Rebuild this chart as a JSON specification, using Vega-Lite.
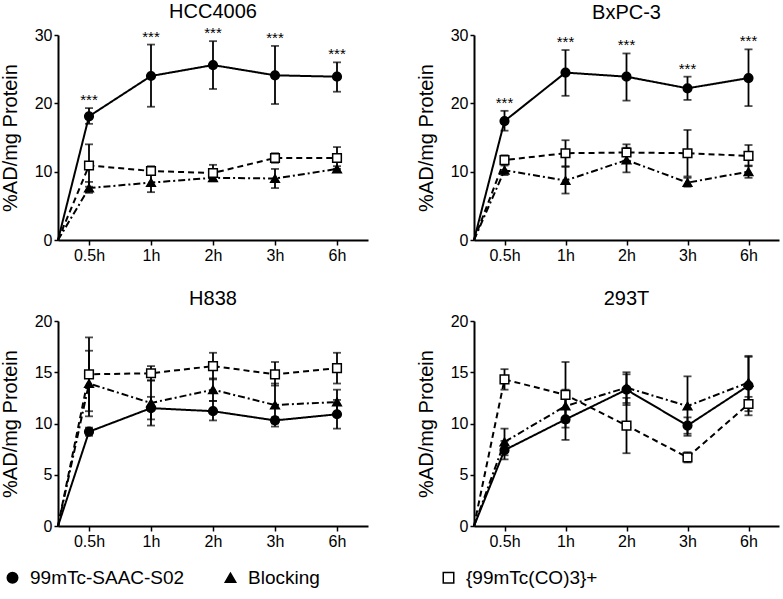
{
  "$schema": "https://vega.github.io/schema/vega-lite/v6.json",
  "padding": {"left": 0, "top": 2, "right": 4, "bottom": 2},
  "background": "white",
  "data": {"values": [
    {"panel":"HCC4006","series":"99mTc-SAAC-S02","time":0,"mean":0},
    {"panel":"HCC4006","series":"99mTc-SAAC-S02","time":0.5,"mean":18.1,"lo":17.0,"hi":19.3,"sig":"***"},
    {"panel":"HCC4006","series":"99mTc-SAAC-S02","time":1,"mean":24.0,"lo":19.5,"hi":28.6,"sig":"***"},
    {"panel":"HCC4006","series":"99mTc-SAAC-S02","time":2,"mean":25.6,"lo":22.1,"hi":29.1,"sig":"***"},
    {"panel":"HCC4006","series":"99mTc-SAAC-S02","time":3,"mean":24.1,"lo":19.9,"hi":28.4,"sig":"***"},
    {"panel":"HCC4006","series":"99mTc-SAAC-S02","time":6,"mean":23.9,"lo":21.7,"hi":26.0,"sig":"***"},
    {"panel":"HCC4006","series":"Blocking","time":0,"mean":0},
    {"panel":"HCC4006","series":"Blocking","time":0.5,"mean":7.6,"lo":6.9,"hi":8.5},
    {"panel":"HCC4006","series":"Blocking","time":1,"mean":8.4,"lo":7.0,"hi":9.8},
    {"panel":"HCC4006","series":"Blocking","time":2,"mean":9.1,"lo":8.8,"hi":9.5},
    {"panel":"HCC4006","series":"Blocking","time":3,"mean":9.0,"lo":7.6,"hi":10.4},
    {"panel":"HCC4006","series":"Blocking","time":6,"mean":10.4,"lo":10.0,"hi":10.8},
    {"panel":"HCC4006","series":"{99mTc(CO)3}+","time":0,"mean":0},
    {"panel":"HCC4006","series":"{99mTc(CO)3}+","time":0.5,"mean":10.9,"lo":7.8,"hi":14.0},
    {"panel":"HCC4006","series":"{99mTc(CO)3}+","time":1,"mean":10.1,"lo":9.5,"hi":10.8},
    {"panel":"HCC4006","series":"{99mTc(CO)3}+","time":2,"mean":9.8,"lo":8.6,"hi":11.0},
    {"panel":"HCC4006","series":"{99mTc(CO)3}+","time":3,"mean":12.0,"lo":11.3,"hi":12.7},
    {"panel":"HCC4006","series":"{99mTc(CO)3}+","time":6,"mean":12.0,"lo":10.4,"hi":13.6},

    {"panel":"BxPC-3","series":"99mTc-SAAC-S02","time":0,"mean":0},
    {"panel":"BxPC-3","series":"99mTc-SAAC-S02","time":0.5,"mean":17.4,"lo":16.0,"hi":18.9,"sig":"***"},
    {"panel":"BxPC-3","series":"99mTc-SAAC-S02","time":1,"mean":24.5,"lo":21.1,"hi":27.8,"sig":"***"},
    {"panel":"BxPC-3","series":"99mTc-SAAC-S02","time":2,"mean":23.9,"lo":20.4,"hi":27.3,"sig":"***"},
    {"panel":"BxPC-3","series":"99mTc-SAAC-S02","time":3,"mean":22.2,"lo":20.5,"hi":23.9,"sig":"***"},
    {"panel":"BxPC-3","series":"99mTc-SAAC-S02","time":6,"mean":23.7,"lo":19.6,"hi":27.9,"sig":"***"},
    {"panel":"BxPC-3","series":"Blocking","time":0,"mean":0},
    {"panel":"BxPC-3","series":"Blocking","time":0.5,"mean":10.2,"lo":9.5,"hi":10.9},
    {"panel":"BxPC-3","series":"Blocking","time":1,"mean":8.7,"lo":6.8,"hi":10.7},
    {"panel":"BxPC-3","series":"Blocking","time":2,"mean":11.7,"lo":9.9,"hi":13.5},
    {"panel":"BxPC-3","series":"Blocking","time":3,"mean":8.4,"lo":7.8,"hi":9.1},
    {"panel":"BxPC-3","series":"Blocking","time":6,"mean":10.0,"lo":9.1,"hi":10.9},
    {"panel":"BxPC-3","series":"{99mTc(CO)3}+","time":0,"mean":0},
    {"panel":"BxPC-3","series":"{99mTc(CO)3}+","time":0.5,"mean":11.7,"lo":11.1,"hi":12.4},
    {"panel":"BxPC-3","series":"{99mTc(CO)3}+","time":1,"mean":12.7,"lo":10.8,"hi":14.6},
    {"panel":"BxPC-3","series":"{99mTc(CO)3}+","time":2,"mean":12.8,"lo":11.6,"hi":14.0},
    {"panel":"BxPC-3","series":"{99mTc(CO)3}+","time":3,"mean":12.7,"lo":9.3,"hi":16.1},
    {"panel":"BxPC-3","series":"{99mTc(CO)3}+","time":6,"mean":12.3,"lo":10.8,"hi":13.9},

    {"panel":"H838","series":"99mTc-SAAC-S02","time":0,"mean":0},
    {"panel":"H838","series":"99mTc-SAAC-S02","time":0.5,"mean":9.2,"lo":8.8,"hi":9.6},
    {"panel":"H838","series":"99mTc-SAAC-S02","time":1,"mean":11.5,"lo":10.4,"hi":12.6},
    {"panel":"H838","series":"99mTc-SAAC-S02","time":2,"mean":11.2,"lo":10.3,"hi":12.2},
    {"panel":"H838","series":"99mTc-SAAC-S02","time":3,"mean":10.3,"lo":10.0,"hi":10.6},
    {"panel":"H838","series":"99mTc-SAAC-S02","time":6,"mean":10.9,"lo":9.5,"hi":12.3},
    {"panel":"H838","series":"Blocking","time":0,"mean":0},
    {"panel":"H838","series":"Blocking","time":0.5,"mean":13.9,"lo":10.7,"hi":17.1},
    {"panel":"H838","series":"Blocking","time":1,"mean":12.0,"lo":9.8,"hi":14.2},
    {"panel":"H838","series":"Blocking","time":2,"mean":13.3,"lo":12.2,"hi":14.4},
    {"panel":"H838","series":"Blocking","time":3,"mean":11.8,"lo":9.7,"hi":13.9},
    {"panel":"H838","series":"Blocking","time":6,"mean":12.1,"lo":10.9,"hi":13.3},
    {"panel":"H838","series":"{99mTc(CO)3}+","time":0,"mean":0},
    {"panel":"H838","series":"{99mTc(CO)3}+","time":0.5,"mean":14.8,"lo":11.2,"hi":18.4},
    {"panel":"H838","series":"{99mTc(CO)3}+","time":1,"mean":14.9,"lo":14.2,"hi":15.6},
    {"panel":"H838","series":"{99mTc(CO)3}+","time":2,"mean":15.6,"lo":14.3,"hi":16.9},
    {"panel":"H838","series":"{99mTc(CO)3}+","time":3,"mean":14.8,"lo":13.7,"hi":16.0},
    {"panel":"H838","series":"{99mTc(CO)3}+","time":6,"mean":15.4,"lo":13.9,"hi":16.9},

    {"panel":"293T","series":"99mTc-SAAC-S02","time":0,"mean":0},
    {"panel":"293T","series":"99mTc-SAAC-S02","time":0.5,"mean":7.4,"lo":6.5,"hi":8.3},
    {"panel":"293T","series":"99mTc-SAAC-S02","time":1,"mean":10.4,"lo":8.4,"hi":12.4},
    {"panel":"293T","series":"99mTc-SAAC-S02","time":2,"mean":13.3,"lo":11.8,"hi":14.8},
    {"panel":"293T","series":"99mTc-SAAC-S02","time":3,"mean":9.8,"lo":9.0,"hi":10.6},
    {"panel":"293T","series":"99mTc-SAAC-S02","time":6,"mean":13.7,"lo":10.8,"hi":16.6},
    {"panel":"293T","series":"Blocking","time":0,"mean":0},
    {"panel":"293T","series":"Blocking","time":0.5,"mean":8.2,"lo":6.9,"hi":9.5},
    {"panel":"293T","series":"Blocking","time":1,"mean":11.7,"lo":10.1,"hi":13.3},
    {"panel":"293T","series":"Blocking","time":2,"mean":13.5,"lo":12.0,"hi":15.0},
    {"panel":"293T","series":"Blocking","time":3,"mean":11.7,"lo":8.8,"hi":14.6},
    {"panel":"293T","series":"Blocking","time":6,"mean":14.0,"lo":11.5,"hi":16.5},
    {"panel":"293T","series":"{99mTc(CO)3}+","time":0,"mean":0},
    {"panel":"293T","series":"{99mTc(CO)3}+","time":0.5,"mean":14.3,"lo":13.3,"hi":15.3},
    {"panel":"293T","series":"{99mTc(CO)3}+","time":1,"mean":12.8,"lo":9.6,"hi":16.0},
    {"panel":"293T","series":"{99mTc(CO)3}+","time":2,"mean":9.8,"lo":7.1,"hi":12.5},
    {"panel":"293T","series":"{99mTc(CO)3}+","time":3,"mean":6.7,"lo":6.2,"hi":7.2},
    {"panel":"293T","series":"{99mTc(CO)3}+","time":6,"mean":11.9,"lo":11.2,"hi":12.6}
  ]},
  "columns": 2,
  "spacing": {"row": 26, "column": 48},
  "resolve": {"scale": {"shape": "shared", "fill": "shared", "stroke": "shared", "strokeDash": "shared"}, "legend": {"shape": "shared", "fill": "shared", "stroke": "shared"}},
  "concat": [
    {
      "width": 310, "height": 205,
      "title": "HCC4006",
      "transform": [{"filter": "datum.panel == 'HCC4006'"}],
      "encoding": {"x": {"field": "time", "type": "quantitative", "scale": {"domain": [0,0.5,1,2,3,6,7], "range": [0,31,93,155,217,279,310], "nice": false, "zero": false}, "axis": {"values": [0.5,1,2,3,6], "labelExpr": "datum.value + 'h'", "title": null}}},
      "layer": [
        {"mark": {"type": "line", "color": "black", "strokeWidth": 2},
         "encoding": {"y": {"field": "mean", "type": "quantitative", "scale": {"domain": [0,30], "nice": false}, "axis": {"values": [0,10,20,30], "title": "%AD/mg Protein"}},
                      "strokeDash": {"field": "series", "type": "nominal", "scale": {"domain": ["{99mTc(CO)3}+","Blocking","99mTc-SAAC-S02"], "range": [[6,4],[7,3,2,3],[1,0]]}, "legend": null}}},
        {"transform": [{"filter": "datum.time > 0"}], "mark": {"type": "rule", "color": "black", "strokeWidth": 1.8},
         "encoding": {"y": {"field": "lo", "type": "quantitative", "title": "%AD/mg Protein"}, "y2": {"field": "hi"}}},
        {"transform": [{"filter": "datum.time > 0"}], "mark": {"type": "tick", "orient": "horizontal", "color": "black", "size": 8, "thickness": 1.8},
         "encoding": {"y": {"field": "lo", "type": "quantitative", "title": "%AD/mg Protein"}}},
        {"transform": [{"filter": "datum.time > 0"}], "mark": {"type": "tick", "orient": "horizontal", "color": "black", "size": 8, "thickness": 1.8},
         "encoding": {"y": {"field": "hi", "type": "quantitative", "title": "%AD/mg Protein"}}},
        {"transform": [{"filter": "datum.time > 0"}], "mark": {"type": "point", "filled": true, "size": 75, "strokeWidth": 1.5, "opacity": 1},
         "encoding": {"y": {"field": "mean", "type": "quantitative", "title": "%AD/mg Protein"},
                      "shape": {"field": "series", "type": "nominal", "scale": {"domain": ["99mTc-SAAC-S02","Blocking","{99mTc(CO)3}+"], "range": ["circle","triangle-up","square"]}, "legend": {"title": null}},
                      "fill": {"field": "series", "type": "nominal", "scale": {"domain": ["99mTc-SAAC-S02","Blocking","{99mTc(CO)3}+"], "range": ["black","black","white"]}, "legend": {"title": null}},
                      "stroke": {"field": "series", "type": "nominal", "scale": {"domain": ["99mTc-SAAC-S02","Blocking","{99mTc(CO)3}+"], "range": ["black","black","black"]}, "legend": {"title": null}}}},
        {"transform": [{"filter": "datum.sig"}], "mark": {"type": "text", "fontSize": 15, "baseline": "alphabetic", "dy": -3, "color": "black"},
         "encoding": {"y": {"field": "hi", "type": "quantitative", "title": "%AD/mg Protein"}, "text": {"field": "sig"}}}
      ]
    },
    {
      "width": 305, "height": 205,
      "title": "BxPC-3",
      "transform": [{"filter": "datum.panel == 'BxPC-3'"}],
      "encoding": {"x": {"field": "time", "type": "quantitative", "scale": {"domain": [0,0.5,1,2,3,6,7], "range": [0,30.5,91.5,152.5,213.5,274.5,305], "nice": false, "zero": false}, "axis": {"values": [0.5,1,2,3,6], "labelExpr": "datum.value + 'h'", "title": null}}},
      "layer": [
        {"mark": {"type": "line", "color": "black", "strokeWidth": 2},
         "encoding": {"y": {"field": "mean", "type": "quantitative", "scale": {"domain": [0,30], "nice": false}, "axis": {"values": [0,10,20,30], "title": "%AD/mg Protein"}},
                      "strokeDash": {"field": "series", "type": "nominal", "scale": {"domain": ["{99mTc(CO)3}+","Blocking","99mTc-SAAC-S02"], "range": [[6,4],[7,3,2,3],[1,0]]}, "legend": null}}},
        {"transform": [{"filter": "datum.time > 0"}], "mark": {"type": "rule", "color": "black", "strokeWidth": 1.8},
         "encoding": {"y": {"field": "lo", "type": "quantitative", "title": "%AD/mg Protein"}, "y2": {"field": "hi"}}},
        {"transform": [{"filter": "datum.time > 0"}], "mark": {"type": "tick", "orient": "horizontal", "color": "black", "size": 8, "thickness": 1.8},
         "encoding": {"y": {"field": "lo", "type": "quantitative", "title": "%AD/mg Protein"}}},
        {"transform": [{"filter": "datum.time > 0"}], "mark": {"type": "tick", "orient": "horizontal", "color": "black", "size": 8, "thickness": 1.8},
         "encoding": {"y": {"field": "hi", "type": "quantitative", "title": "%AD/mg Protein"}}},
        {"transform": [{"filter": "datum.time > 0"}], "mark": {"type": "point", "filled": true, "size": 75, "strokeWidth": 1.5, "opacity": 1},
         "encoding": {"y": {"field": "mean", "type": "quantitative", "title": "%AD/mg Protein"},
                      "shape": {"field": "series", "type": "nominal", "scale": {"domain": ["99mTc-SAAC-S02","Blocking","{99mTc(CO)3}+"], "range": ["circle","triangle-up","square"]}, "legend": {"title": null}},
                      "fill": {"field": "series", "type": "nominal", "scale": {"domain": ["99mTc-SAAC-S02","Blocking","{99mTc(CO)3}+"], "range": ["black","black","white"]}, "legend": {"title": null}},
                      "stroke": {"field": "series", "type": "nominal", "scale": {"domain": ["99mTc-SAAC-S02","Blocking","{99mTc(CO)3}+"], "range": ["black","black","black"]}, "legend": {"title": null}}}},
        {"transform": [{"filter": "datum.sig"}], "mark": {"type": "text", "fontSize": 15, "baseline": "alphabetic", "dy": -3, "color": "black"},
         "encoding": {"y": {"field": "hi", "type": "quantitative", "title": "%AD/mg Protein"}, "text": {"field": "sig"}}}
      ]
    },
    {
      "width": 310, "height": 205,
      "title": "H838",
      "transform": [{"filter": "datum.panel == 'H838'"}],
      "encoding": {"x": {"field": "time", "type": "quantitative", "scale": {"domain": [0,0.5,1,2,3,6,7], "range": [0,31,93,155,217,279,310], "nice": false, "zero": false}, "axis": {"values": [0.5,1,2,3,6], "labelExpr": "datum.value + 'h'", "title": null}}},
      "layer": [
        {"mark": {"type": "line", "color": "black", "strokeWidth": 2},
         "encoding": {"y": {"field": "mean", "type": "quantitative", "scale": {"domain": [0,20], "nice": false}, "axis": {"values": [0,5,10,15,20], "title": "%AD/mg Protein"}},
                      "strokeDash": {"field": "series", "type": "nominal", "scale": {"domain": ["{99mTc(CO)3}+","Blocking","99mTc-SAAC-S02"], "range": [[6,4],[7,3,2,3],[1,0]]}, "legend": null}}},
        {"transform": [{"filter": "datum.time > 0"}], "mark": {"type": "rule", "color": "black", "strokeWidth": 1.8},
         "encoding": {"y": {"field": "lo", "type": "quantitative", "title": "%AD/mg Protein"}, "y2": {"field": "hi"}}},
        {"transform": [{"filter": "datum.time > 0"}], "mark": {"type": "tick", "orient": "horizontal", "color": "black", "size": 8, "thickness": 1.8},
         "encoding": {"y": {"field": "lo", "type": "quantitative", "title": "%AD/mg Protein"}}},
        {"transform": [{"filter": "datum.time > 0"}], "mark": {"type": "tick", "orient": "horizontal", "color": "black", "size": 8, "thickness": 1.8},
         "encoding": {"y": {"field": "hi", "type": "quantitative", "title": "%AD/mg Protein"}}},
        {"transform": [{"filter": "datum.time > 0"}], "mark": {"type": "point", "filled": true, "size": 75, "strokeWidth": 1.5, "opacity": 1},
         "encoding": {"y": {"field": "mean", "type": "quantitative", "title": "%AD/mg Protein"},
                      "shape": {"field": "series", "type": "nominal", "scale": {"domain": ["99mTc-SAAC-S02","Blocking","{99mTc(CO)3}+"], "range": ["circle","triangle-up","square"]}, "legend": {"title": null}},
                      "fill": {"field": "series", "type": "nominal", "scale": {"domain": ["99mTc-SAAC-S02","Blocking","{99mTc(CO)3}+"], "range": ["black","black","white"]}, "legend": {"title": null}},
                      "stroke": {"field": "series", "type": "nominal", "scale": {"domain": ["99mTc-SAAC-S02","Blocking","{99mTc(CO)3}+"], "range": ["black","black","black"]}, "legend": {"title": null}}}}
      ]
    },
    {
      "width": 305, "height": 205,
      "title": "293T",
      "transform": [{"filter": "datum.panel == '293T'"}],
      "encoding": {"x": {"field": "time", "type": "quantitative", "scale": {"domain": [0,0.5,1,2,3,6,7], "range": [0,30.5,91.5,152.5,213.5,274.5,305], "nice": false, "zero": false}, "axis": {"values": [0.5,1,2,3,6], "labelExpr": "datum.value + 'h'", "title": null}}},
      "layer": [
        {"mark": {"type": "line", "color": "black", "strokeWidth": 2},
         "encoding": {"y": {"field": "mean", "type": "quantitative", "scale": {"domain": [0,20], "nice": false}, "axis": {"values": [0,5,10,15,20], "title": "%AD/mg Protein"}},
                      "strokeDash": {"field": "series", "type": "nominal", "scale": {"domain": ["{99mTc(CO)3}+","Blocking","99mTc-SAAC-S02"], "range": [[6,4],[7,3,2,3],[1,0]]}, "legend": null}}},
        {"transform": [{"filter": "datum.time > 0"}], "mark": {"type": "rule", "color": "black", "strokeWidth": 1.8},
         "encoding": {"y": {"field": "lo", "type": "quantitative", "title": "%AD/mg Protein"}, "y2": {"field": "hi"}}},
        {"transform": [{"filter": "datum.time > 0"}], "mark": {"type": "tick", "orient": "horizontal", "color": "black", "size": 8, "thickness": 1.8},
         "encoding": {"y": {"field": "lo", "type": "quantitative", "title": "%AD/mg Protein"}}},
        {"transform": [{"filter": "datum.time > 0"}], "mark": {"type": "tick", "orient": "horizontal", "color": "black", "size": 8, "thickness": 1.8},
         "encoding": {"y": {"field": "hi", "type": "quantitative", "title": "%AD/mg Protein"}}},
        {"transform": [{"filter": "datum.time > 0"}], "mark": {"type": "point", "filled": true, "size": 75, "strokeWidth": 1.5, "opacity": 1},
         "encoding": {"y": {"field": "mean", "type": "quantitative", "title": "%AD/mg Protein"},
                      "shape": {"field": "series", "type": "nominal", "scale": {"domain": ["99mTc-SAAC-S02","Blocking","{99mTc(CO)3}+"], "range": ["circle","triangle-up","square"]}, "legend": {"title": null}},
                      "fill": {"field": "series", "type": "nominal", "scale": {"domain": ["99mTc-SAAC-S02","Blocking","{99mTc(CO)3}+"], "range": ["black","black","white"]}, "legend": {"title": null}},
                      "stroke": {"field": "series", "type": "nominal", "scale": {"domain": ["99mTc-SAAC-S02","Blocking","{99mTc(CO)3}+"], "range": ["black","black","black"]}, "legend": {"title": null}}}}
      ]
    }
  ],
  "config": {
    "view": {"stroke": null},
    "font": "Liberation Sans",
    "axis": {"domainColor": "black", "domainWidth": 2, "tickColor": "black", "tickWidth": 1.5, "labelColor": "black", "labelFontSize": 16, "labelFont": "Liberation Sans", "titleFont": "Liberation Sans", "titleFontSize": 20, "titleFontWeight": "normal", "titleColor": "black", "grid": false},
    "axisY": {"tickSize": 4, "labelPadding": 2, "titlePadding": 14},
    "axisX": {"tickSize": 5, "labelPadding": 2},
    "title": {"fontSize": 20, "fontWeight": "normal", "font": "Liberation Sans", "color": "black", "offset": 4},
    "legend": {"orient": "none", "legendX": -55, "legendY": 533, "direction": "horizontal", "gridAlign": "all", "columnPadding": 36, "labelFontSize": 19, "labelLimit": 400, "labelColor": "black", "symbolSize": 110, "symbolStrokeColor": "black", "symbolStrokeWidth": 1.5, "labelOffset": 8}
  }
}
